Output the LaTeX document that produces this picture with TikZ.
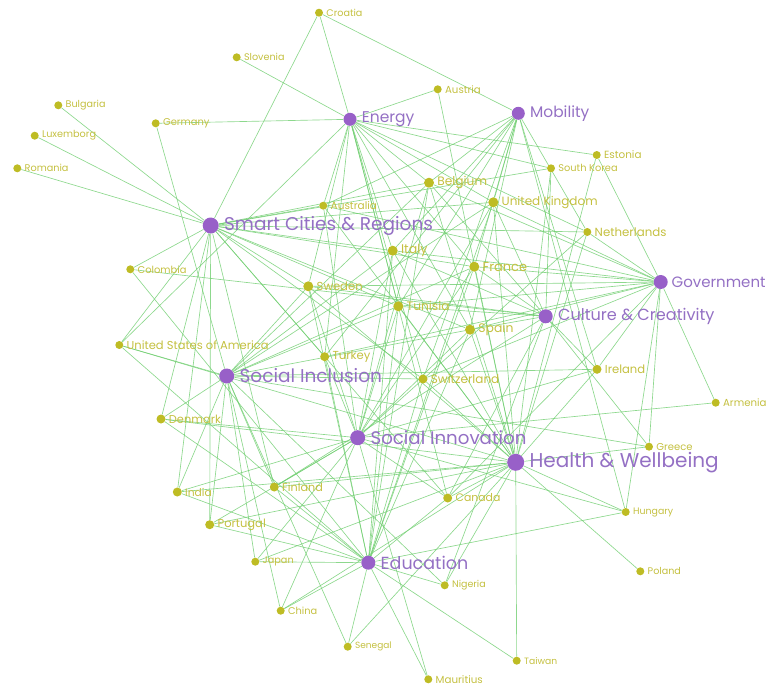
\documentclass[tikz,border=0pt]{standalone}
\usepackage{fontspec}
\setmainfont{Poppins}
\usetikzlibrary{backgrounds}

\definecolor{topicdot}{RGB}{152,96,200}
\definecolor{topictext}{RGB}{148,112,196}
\definecolor{landdot}{RGB}{190,188,36}
\definecolor{landtext}{RGB}{196,192,64}
\definecolor{linkgreen}{RGB}{112,206,112}

\tikzset{
  topic/.style={circle,fill=topicdot,inner sep=0pt,minimum size=14pt},
  land/.style={circle,fill=landdot,inner sep=0pt,minimum size=9pt},
  tlabel/.style={anchor=west,text=topictext,inner sep=0pt,xshift=5pt},
  clabel/.style={anchor=west,text=landtext,inner sep=0pt,xshift=3pt},
  link/.style={draw=linkgreen,line width=0.65pt,opacity=0.8},
}

% theme node: name, x, y, dot size, label, font size
\newcommand\themenode[6]{%
  \node[topic,minimum size=#4pt] (#1) at (#2,#3) {};
  \node[tlabel,font=\fontsize{#6pt}{#6pt}\selectfont] (#1-text) at (#1.east) {#5};}
% country node: name, x, y, dot size, label, font size
\newcommand\landnode[6]{%
  \node[land,minimum size=#4pt] (#1) at (#2,#3) {};
  \node[clabel,font=\fontsize{#6pt}{#6pt}\selectfont] (#1-text) at (#1.east) {#5};}
% links from one country to a list of themes
\newcommand\linksfrom[2]{\foreach \t in {#2}{\draw[link] (#1) -- (\t);}}

\begin{document}
\begin{tikzpicture}[x=1pt,y=-1pt]
\useasboundingbox (0,0) rectangle (770,688);

% themes
\themenode{E}{350}{119.3}{13}{Energy}{15.5}
\themenode{M}{518.3}{113.3}{13}{Mobility}{15.4}
\themenode{SC}{210.7}{225.5}{16}{Smart Cities \& Regions}{18.5}
\node[topic] (G) at (660.7,282) {};
\node[tlabel,xshift=-1.5pt,font=\fontsize{15}{15}\selectfont] (G-text) at (G.east) {Government};
\themenode{CC}{545.7}{316.3}{14}{Culture \& Creativity}{16.1}
\themenode{SI}{226.7}{376}{15}{Social Inclusion}{18.5}
\themenode{SN}{357.7}{437.7}{15}{Social Innovation}{18.2}
\themenode{HW}{515.7}{462.3}{17}{Health \& Wellbeing}{20}
\themenode{ED}{368.3}{562.7}{14}{Education}{17.5}

% countries
\landnode{croatia}{319}{12.7}{8}{Croatia}{9.6}
\landnode{slovenia}{236.7}{57.3}{8}{Slovenia}{9.6}
\landnode{austria}{437.7}{89.3}{8}{Austria}{10.2}
\landnode{bulgaria}{58.3}{105.3}{8}{Bulgaria}{9.6}
\landnode{luxemborg}{34.7}{135.7}{8}{Luxemborg}{9.7}
\landnode{germany}{155.7}{123.3}{8}{Germany}{9.9}
\landnode{romania}{17.3}{168.3}{8}{Romania}{9.7}
\landnode{estonia}{596.7}{155}{8}{Estonia}{10.4}
\landnode{skorea}{551}{168.3}{8}{South Korea}{9.8}
\landnode{belgium}{429}{182.7}{10}{Belgium}{12.2}
\landnode{australia}{323.3}{205.7}{8}{Australia}{10.5}
\landnode{uk}{493.3}{202.3}{10}{United Kingdom}{12}
\landnode{netherlands}{587.3}{232}{8}{Netherlands}{11.8}
\landnode{italy}{392.7}{250.7}{10}{Italy}{12.6}
\landnode{france}{474.3}{266.7}{10}{France}{13}
\landnode{colombia}{130.3}{269.3}{8}{Colombia}{9.9}
\landnode{sweden}{308.3}{286.3}{10}{Sweden}{11.6}
\landnode{tunisia}{398.3}{306.3}{10}{Tunisia}{12.2}
\landnode{spain}{470}{329.7}{10}{Spain}{12.4}
\landnode{usa}{119.3}{345}{8}{United States of America}{11.5}
\landnode{turkey}{324.7}{356.7}{9}{Turkey}{11.6}
\landnode{switzerland}{423}{379}{9}{Switzerland}{12}
\landnode{ireland}{597}{369.3}{9}{Ireland}{11.6}
\landnode{armenia}{715.7}{402.7}{8}{Armenia}{10.2}
\landnode{denmark}{161}{419}{9}{Denmark}{11.4}
\landnode{greece}{649}{446.7}{8}{Greece}{10}
\landnode{india}{177.3}{492}{9}{India}{10.7}
\landnode{finland}{274.3}{487}{9}{Finland}{11.2}
\landnode{canada}{447.7}{498}{9}{Canada}{10.9}
\landnode{hungary}{625.7}{512}{8}{Hungary}{9.4}
\landnode{portugal}{209.7}{524.7}{9}{Portugal}{11.5}
\landnode{japan}{255.3}{561.7}{8}{Japan}{9.7}
\landnode{nigeria}{444.7}{585.3}{8}{Nigeria}{9.5}
\landnode{poland}{640.3}{571.3}{8}{Poland}{9.6}
\landnode{china}{280.7}{610.7}{8}{China}{9.8}
\landnode{senegal}{347.7}{646.7}{8}{Senegal}{9}
\landnode{taiwan}{516.7}{660.7}{8}{Taiwan}{9.2}
\landnode{mauritius}{428.3}{679.3}{8}{Mauritius}{10.3}

% connections
\begin{pgfonlayer}{background}
\linksfrom{croatia}{E,SC,M}
\linksfrom{slovenia}{E}
\linksfrom{austria}{E,HW}
\linksfrom{bulgaria}{SC}
\linksfrom{luxemborg}{SC}
\linksfrom{romania}{SC}
\linksfrom{germany}{E,SI}
\linksfrom{estonia}{E,HW,G}
\linksfrom{skorea}{SC,HW,E,CC}
\linksfrom{belgium}{E,SC,M,G,SI,SN,ED,CC,HW}
\linksfrom{australia}{E,SC,G,M,SN,HW}
\linksfrom{uk}{E,M,SC,G,CC,SI,SN,HW,ED}
\linksfrom{netherlands}{E,M,SC,G,SN,HW}
\linksfrom{italy}{E,SC,M,G,CC,SI,SN,HW,ED}
\linksfrom{france}{E,SC,M,G,CC,SI,SN,HW,ED}
\linksfrom{colombia}{SC,CC,ED}
\linksfrom{sweden}{E,SC,G,CC,SI,SN,ED,HW}
\linksfrom{tunisia}{E,SC,M,G,CC,SI,SN,HW,ED}
\linksfrom{spain}{E,SC,M,G,CC,SI,SN,HW,ED}
\linksfrom{usa}{SC,SI,HW,ED,E}
\linksfrom{turkey}{E,SC,M,SN,ED,G}
\linksfrom{switzerland}{E,SC,M,SI,ED,G,HW}
\linksfrom{ireland}{CC,G,M,SN,HW,SI}
\linksfrom{armenia}{G,SN}
\linksfrom{denmark}{SC,SI,SN,HW,ED}
\linksfrom{greece}{CC,G,HW,SI}
\linksfrom{india}{SC,SI,HW,SN,ED}
\linksfrom{finland}{SC,SI,SN,HW,ED,CC}
\linksfrom{canada}{SN,HW,ED,CC,G,SC,E}
\linksfrom{hungary}{HW,SN,G,M,ED}
\linksfrom{portugal}{SC,SI,SN,HW,ED}
\linksfrom{japan}{SI,SN,ED,HW}
\linksfrom{nigeria}{ED,SI,HW,CC}
\linksfrom{poland}{HW}
\linksfrom{china}{SI,ED,SN,HW}
\linksfrom{senegal}{ED,SI,HW}
\linksfrom{taiwan}{HW,ED}
\linksfrom{mauritius}{ED,SN}
\end{pgfonlayer}
\end{tikzpicture}
\end{document}
